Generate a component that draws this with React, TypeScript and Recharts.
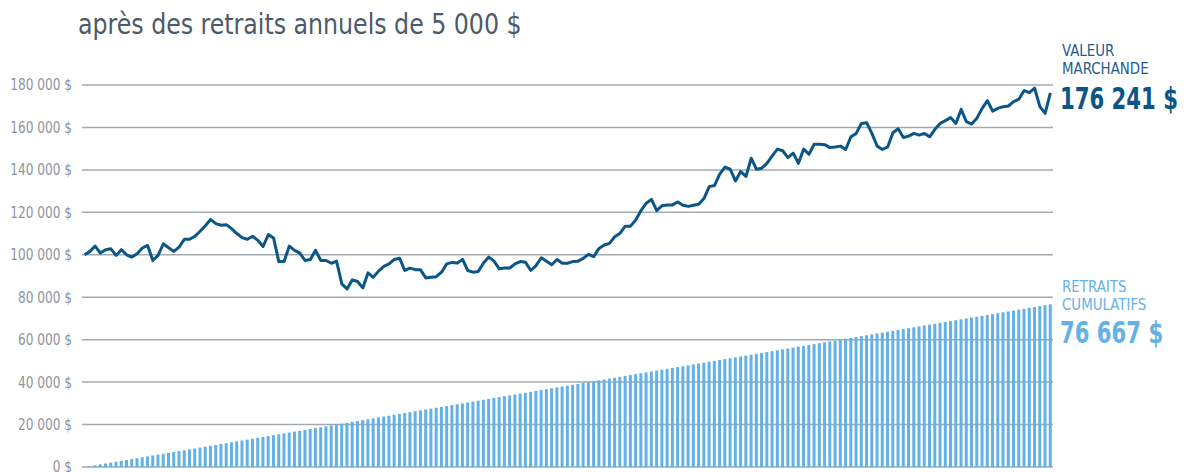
import React from 'react';
import { ComposedChart, Bar, Line, XAxis, YAxis, CartesianGrid } from 'recharts';

// Valeur marchande mensuelle ($)
const marketValue = [
  100000, 101600, 104100, 100800, 102400, 102800, 99700, 102400, 100000, 98900,
  100500, 103200, 104400, 97300, 99700, 105200, 103300, 101600, 103600, 107300,
  107300, 108700, 111100, 113700, 116600, 114700, 113900, 114200, 112300, 110000,
  108100, 107300, 108700, 106800, 103900, 109500, 107900, 96800, 96800, 104100,
  102100, 100800, 97300, 97800, 102100, 97300, 97300, 96000, 97000, 86300,
  83900, 88200, 87400, 84400, 91500, 89400, 92300, 94500, 95700, 97800,
  98400, 92600, 93700, 93000, 92900, 89100, 89400, 89700, 91800, 95700,
  96400, 96100, 97800, 92600, 91800, 92100, 96100, 98900, 97000, 93400,
  93800, 93800, 95700, 96800, 96500, 92600, 94900, 98600, 97000, 95300,
  97800, 96000, 96000, 96800, 97000, 98300, 100200, 99100, 103000, 104600,
  105400, 108500, 110100, 113500, 113500, 116400, 120800, 124300, 126100, 120800,
  123100, 123500, 123500, 124900, 123300, 122800, 123300, 123800, 126500, 132100,
  132600, 138000, 141300, 140300, 134800, 139200, 136900, 145500, 140300, 140800,
  143100, 146600, 149800, 149000, 145800, 147900, 143100, 149800, 147400, 152100,
  152100, 151900, 150500, 150800, 151200, 149600, 155600, 157200, 161900, 162200,
  157200, 151200, 149600, 150800, 157500, 159400, 155300, 155900, 157200, 156400,
  157200, 155600, 159100, 161900, 163200, 164700, 161900, 168500, 162700, 161600,
  164300, 169000, 172600, 167700, 169000, 169800, 170100, 172200, 173300, 177400,
  176400, 178500, 169800, 166600, 176241,
];

// Retraits cumulatifs ($), 5 000 $ par an versés mensuellement
const withdrawals = [
  0,
  417, 833, 1250, 1667, 2083, 2500, 2917, 3333, 3750, 4167, 4583, 5000,
  5417, 5833, 6250, 6667, 7083, 7500, 7917, 8333, 8750, 9167, 9583, 10000,
  10417, 10833, 11250, 11667, 12083, 12500, 12917, 13333, 13750, 14167, 14583, 15000,
  15417, 15833, 16250, 16667, 17083, 17500, 17917, 18333, 18750, 19167, 19583, 20000,
  20417, 20833, 21250, 21667, 22083, 22500, 22917, 23333, 23750, 24167, 24583, 25000,
  25417, 25833, 26250, 26667, 27083, 27500, 27917, 28333, 28750, 29167, 29583, 30000,
  30417, 30833, 31250, 31667, 32083, 32500, 32917, 33333, 33750, 34167, 34583, 35000,
  35417, 35833, 36250, 36667, 37083, 37500, 37917, 38333, 38750, 39167, 39583, 40000,
  40417, 40833, 41250, 41667, 42083, 42500, 42917, 43333, 43750, 44167, 44583, 45000,
  45417, 45833, 46250, 46667, 47083, 47500, 47917, 48333, 48750, 49167, 49583, 50000,
  50417, 50833, 51250, 51667, 52083, 52500, 52917, 53333, 53750, 54167, 54583, 55000,
  55417, 55833, 56250, 56667, 57083, 57500, 57917, 58333, 58750, 59167, 59583, 60000,
  60417, 60833, 61250, 61667, 62083, 62500, 62917, 63333, 63750, 64167, 64583, 65000,
  65417, 65833, 66250, 66667, 67083, 67500, 67917, 68333, 68750, 69167, 69583, 70000,
  70417, 70833, 71250, 71667, 72083, 72500, 72917, 73333, 73750, 74167, 74583, 75000,
  75417, 75833, 76250, 76667,
];

const yTicks = [0, 20000, 40000, 60000, 80000, 100000, 120000, 140000, 160000, 180000];

const data = marketValue.map((v, i) => ({ month: i, value: v, withdrawn: withdrawals[i] }));

const FONT = '"DejaVu Sans Condensed", "Liberation Sans Narrow", sans-serif';
const DARK = '#0b5686';
const LIGHT = '#64b1e5';

const fmt = (v: number) => (v === 0 ? '0 $' : `${v / 1000} 000 $`);

// condensed tick label, right-aligned to the axis
const YTick = ({ x, y, payload }: any) => (
  <text
    transform={`translate(${x},${y}) scale(0.9,1)`}
    textAnchor="end"
    dy="0.36em"
    fill="#8c959d"
    fontSize={15}
    fontFamily={FONT}
  >
    {fmt(payload.value)}
  </text>
);

const squeeze = (s: number): React.CSSProperties => ({
  transform: `scaleX(${s})`,
  transformOrigin: 'left top',
  whiteSpace: 'nowrap',
});

export default function App() {
  return (
    <div style={{ position: 'absolute', left: 0, top: 0, width: 1186, height: 472, overflow: 'hidden', background: '#fff', fontFamily: FONT }}>
      <div style={{ position: 'absolute', left: 78, top: 8, fontSize: 28, color: '#4b5b6a', ...squeeze(0.94) }}>
        après des retraits annuels de 5 000 $
      </div>

      <ComposedChart
        width={1186}
        height={500}
        data={data}
        margin={{ top: 85, right: 133, bottom: 33, left: 0 }}
        barSize={3}
      >
        <CartesianGrid vertical={false} stroke="#a2a9b0" strokeWidth={1.5} />
        <XAxis dataKey="month" hide />
        <YAxis
          width={82}
          domain={[0, 180000]}
          ticks={yTicks}
          axisLine={false}
          tickLine={false}
          tickMargin={4}
          tick={<YTick />}
        />
        <Bar dataKey="withdrawn" fill={LIGHT} isAnimationActive={false} />
        <Line
          dataKey="value"
          stroke={DARK}
          strokeWidth={3}
          dot={false}
          strokeLinejoin="round"
          isAnimationActive={false}
        />
      </ComposedChart>

      <div style={{ position: 'absolute', left: 1062, top: 42, fontSize: 16, lineHeight: '18px', color: '#1d5c8c', ...squeeze(0.93) }}>
        VALEUR<br />MARCHANDE
      </div>
      <div style={{ position: 'absolute', left: 1060, top: 83, fontSize: 31, lineHeight: '31px', fontWeight: 'bold', color: DARK, ...squeeze(0.76) }}>
        176 241 $
      </div>
      <div style={{ position: 'absolute', left: 1062, top: 278, fontSize: 16, lineHeight: '18px', color: LIGHT, ...squeeze(0.93) }}>
        RETRAITS<br />CUMULATIFS
      </div>
      <div style={{ position: 'absolute', left: 1060, top: 317, fontSize: 31, lineHeight: '31px', fontWeight: 'bold', color: LIGHT, ...squeeze(0.76) }}>
        76 667 $
      </div>
    </div>
  );
}
